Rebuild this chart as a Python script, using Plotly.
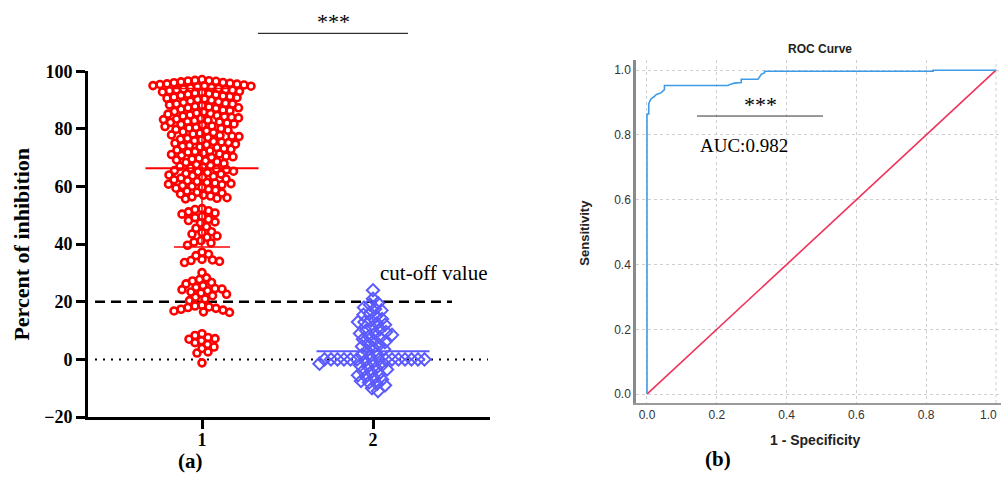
import plotly.graph_objects as go

W, H = 1001, 491

# ---------------- data ----------------
group1 = [97.1, 96.8, 96.6, 96.5, 96.3, 96.1, 96.0, 95.8, 95.6, 95.4, 95.2, 95.0, 94.8, 94.6, 94.4,
          94.2, 94.0, 93.8, 93.6, 93.4, 93.2, 93.0, 92.8, 92.6, 92.4, 92.2, 92.0, 91.8, 91.6, 91.4,
          91.2, 91.0, 90.8, 90.6, 90.4, 90.2, 95.5, 93.5, 96.7, 94.9,
          89.9, 89.6, 89.4, 89.1, 88.9, 88.6, 88.3, 88.1, 87.8, 87.6, 87.3, 87.1, 86.8, 86.5,
          86.3, 86.0, 85.8, 85.5, 85.3, 85.1, 88.6, 87.3,
          84.8, 84.6, 84.4, 84.2, 84.0, 83.8, 83.6, 83.4, 83.2, 83.0, 82.8, 82.6, 82.4, 82.2, 82.0,
          81.7, 81.5, 81.3, 81.0, 80.8, 80.5, 80.3, 80.1,
          79.8, 79.5, 79.3, 79.0, 78.7, 78.5, 78.2, 77.9, 77.7, 77.5, 77.3, 77.0, 76.7, 76.4, 76.1,
          75.9, 75.6, 75.4, 75.2, 75.0,
          74.7, 74.5, 74.2, 74.0, 73.7, 73.5, 73.2, 72.9, 72.6, 72.4, 72.1, 71.9, 71.6, 71.3, 71.1,
          70.8, 70.5, 70.3, 70.1,
          69.8, 69.5, 69.2, 68.9, 68.6, 68.3, 68.0, 67.6, 67.3, 67.0, 66.7, 66.4, 66.1, 65.8, 65.5,
          65.3, 65.1,
          64.8, 64.5, 64.3, 64.0, 63.7, 63.5, 63.2, 62.9, 62.6, 62.3, 62.0, 61.7, 61.4, 61.2, 61.0,
          60.8, 60.6, 60.3, 60.1,
          59.7, 59.4, 59.0, 58.7, 58.4, 58.0, 57.7, 57.4, 57.0, 56.7, 56.4, 56.1, 55.9, 55.7,
          52.3, 52.0, 51.6, 51.2, 50.8, 50.4,
          49.6, 49.2, 48.6, 48.2, 47.7, 47.3, 46.0, 45.5,
          44.3, 44.0, 43.5, 42.8, 42.4, 41.2, 40.7, 40.4,
          39.6, 37.2, 36.5, 36.0,
          34.7, 34.5, 34.3, 34.0, 33.6,
          30.1, 28.3, 27.7, 27.2, 26.7, 26.2, 25.6,
          25.0, 24.6, 24.4, 24.2, 23.8, 23.4, 23.0, 22.6, 22.1, 21.6, 21.0, 20.4,
          18.8, 18.5, 18.2, 18.0, 17.7, 17.4, 17.1, 16.8, 16.5, 16.3,
          8.9, 8.3, 7.6, 7.2, 7.0, 6.5, 5.8, 5.2,
          4.3, 3.8, 2.6, 2.2,
          -1.2]
group2 = [24, 21, 19.5, 19, 18, 17.5, 17, 16, 15.5, 15, 14, 13.5, 13, 13, 12.5, 12, 11, 10.5, 10,
          9.5, 9, 9, 8.5, 8, 7.5, 7, 6.5, 6, 5.5, 5, 4.5, 4, 3.5, 3, 2, 1.5, 1,
          0, 0, 0, 0, 0, 0, 0, 0, 0, 0, 0, 0, 0, 0,
          -0.5, -1, -1.5, -2, -2, -2.5, -3, -3.5, -4, -4.5, -5, -5.5, -6, -6.5, -7, -7.5, -8,
          -8.5, -9, -10, -11]
mean1, sd_low1, sd_high1 = 66.3, 39.0, 94.0
mean2 = 2.8
cutoff = 20
categories = [1, 2]

fpr = [0, 0, 0.005, 0.005, 0.008, 0.012, 0.02, 0.027, 0.04, 0.045, 0.05, 0.05, 0.232, 0.24,
       0.25, 0.27, 0.27, 0.318, 0.325, 0.328, 0.337, 0.337, 0.82, 0.82, 1.0]
tpr = [0, 0.865, 0.865, 0.895, 0.905, 0.912, 0.918, 0.925, 0.93, 0.935, 0.94, 0.953, 0.953, 0.957,
       0.96, 0.962, 0.972, 0.972, 0.982, 0.988, 0.992, 0.997, 0.997, 1.0, 1.0]
diag = [0, 1]
roc_ticks = [0.0, 0.2, 0.4, 0.6, 0.8, 1.0]
auc_text = "AUC:0.982"


# vertical calibration of the rendered page
def ty(y):
    return (y - 8.6) / 0.9625


# ---------------- layout geometry ----------------
AX_L, AX_R, AX_T, AX_B = 88, 490, 70, 417   # panel a plot area (px, target)
XR_A = [1 - (202 - AX_L) / 171.0, 2 + (AX_R - 373) / 171.0]
YR_A = [-20, 100]
PX_PER_X = (AX_R - AX_L) / (XR_A[1] - XR_A[0])
PX_PER_Y = (AX_B - AX_T) / (YR_A[1] - YR_A[0])

BX_L, BX_R, BY_T, BY_B = 636, 1001, 59, 403
XR_B = [-0.0315, 1.0143]
YR_B = [-0.0277, 1.0308]


def swarm(values, D, step=0.5):
    """Simple beeswarm: returns horizontal offsets in px."""
    order = sorted(range(len(values)), key=lambda i: -values[i])
    placed = []
    offs = [0.0] * len(values)
    flip = 1
    for i in order:
        y = values[i] * PX_PER_Y
        k = 0
        while True:
            cands = [0.0] if k == 0 else [flip * k * step, -flip * k * step]
            found = None
            for x in cands:
                if all((x - px) ** 2 + (y - py) ** 2 >= D * D for px, py in placed):
                    found = x
                    break
            if found is not None:
                break
            k += 1
        placed.append((found, y))
        offs[i] = found
        flip = -flip
    return offs


off1 = swarm(group1, 6.8)
off2 = swarm(group2, 6.4)
x1 = [categories[0] + o / PX_PER_X for o in off1]
x2 = [categories[1] + o / PX_PER_X for o in off2]

fig = go.Figure()

fig.add_trace(go.Scatter(x=[XR_A[0] + 7 / PX_PER_X, 1 + (452 - 202) / PX_PER_X], y=[cutoff, cutoff],
                         mode="lines", line=dict(color="black", width=2.5, dash="10px,6px"),
                         xaxis="x", yaxis="y", hoverinfo="skip"))
fig.add_trace(go.Scatter(x=[XR_A[0] + 7 / PX_PER_X, XR_A[1] - 2 / PX_PER_X], y=[0, 0],
                         mode="lines", line=dict(color="black", width=2, dash="2px,6px"),
                         xaxis="x", yaxis="y", hoverinfo="skip"))

fig.add_trace(go.Scatter(x=x1, y=group1, mode="markers", xaxis="x", yaxis="y",
                         marker=dict(symbol="circle-open", size=7, color="#ff0000",
                                     line=dict(width=2.6, color="#ff0000"))))
fig.add_trace(go.Scatter(x=x2, y=group2, mode="markers", xaxis="x", yaxis="y",
                         marker=dict(symbol="diamond-open", size=9.5, color="#5a5aff",
                                     line=dict(width=2, color="#5a5aff"))))

hw = 56.5 / PX_PER_X
cw = 28 / PX_PER_X
c1, c2 = categories
fig.add_trace(go.Scatter(x=[c1 - hw, c1 + hw], y=[mean1, mean1], mode="lines",
                         line=dict(color="#ff0000", width=2), xaxis="x", yaxis="y", hoverinfo="skip"))
fig.add_trace(go.Scatter(x=[c1, c1], y=[sd_low1, sd_high1], mode="lines",
                         line=dict(color="#ff0000", width=1.5), xaxis="x", yaxis="y", hoverinfo="skip"))
for v in (sd_low1, sd_high1):
    fig.add_trace(go.Scatter(x=[c1 - cw, c1 + cw], y=[v, v], mode="lines",
                             line=dict(color="#ff0000", width=1.5), xaxis="x", yaxis="y", hoverinfo="skip"))
fig.add_trace(go.Scatter(x=[c2 - hw, c2 + hw], y=[mean2, mean2], mode="lines",
                         line=dict(color="#5a5aff", width=2), xaxis="x", yaxis="y", hoverinfo="skip"))

# ROC
fig.add_trace(go.Scatter(x=diag, y=diag, mode="lines", line=dict(color="#f0325a", width=1.6),
                         xaxis="x2", yaxis="y2"))
fig.add_trace(go.Scatter(x=fpr, y=tpr, mode="lines", line=dict(color="#3f9be6", width=1.6),
                         xaxis="x2", yaxis="y2"))

serif = "Liberation Serif"
sans = "Liberation Sans"


def pxx(x):
    return x / W


def pxy(y):
    return 1 - ty(y) / H


ann = [
    dict(text="Percent of inhibition", x=pxx(22), y=pxy(244), textangle=-90,
         font=dict(family=serif, size=22, color="black", weight="bold")),
    dict(text="cut-off value", x=pxx(378), y=pxy(272), xanchor="left",
         font=dict(family=serif, size=21, color="black")),
    dict(text="***", x=pxx(333), y=pxy(20),
         font=dict(family=serif, size=22, color="black")),
    dict(text="(a)", x=pxx(190), y=pxy(461),
         font=dict(family=serif, size=21, color="black", weight="bold")),
    dict(text="(b)", x=pxx(718), y=pxy(459),
         font=dict(family=serif, size=21, color="black", weight="bold")),
    dict(text="ROC Curve", x=pxx(820), y=pxy(48),
         font=dict(family=sans, size=12, color="#222", weight="bold")),
    dict(text="Sensitivity", x=pxx(585), y=pxy(232), textangle=-90,
         font=dict(family=sans, size=13, color="#222", weight="bold"), ),
    dict(text="1 - Specificity", x=pxx(815), y=pxy(440),
         font=dict(family=sans, size=14, color="#222", weight="bold")),
    dict(text="***", x=pxx(760), y=pxy(103),
         font=dict(family=serif, size=22, color="black")),
    dict(text=auc_text, x=pxx(744), y=pxy(145),
         font=dict(family=serif, size=19, color="black")),
    dict(text="1.0", x=pxx(999), y=pxy(415), xanchor="right",
         font=dict(family=sans, size=12, color="#333")),
]
for a in ann:
    a.update(xref="paper", yref="paper", showarrow=False)
    a.setdefault("xanchor", "center")
    a["yanchor"] = "middle"

shapes = [
    dict(type="line", xref="paper", yref="paper", x0=pxx(258), x1=pxx(408), y0=pxy(32), y1=pxy(32),
         line=dict(color="black", width=1)),
    dict(type="line", xref="paper", yref="paper", x0=pxx(697), x1=pxx(823), y0=pxy(115), y1=pxy(115),
         line=dict(color="#333", width=1)),
]

fig.update_layout(
    width=W, height=H, margin=dict(l=0, r=0, t=0, b=0),
    paper_bgcolor="white", plot_bgcolor="white", showlegend=False,
    annotations=ann, shapes=shapes,
    xaxis=dict(domain=[AX_L / W, AX_R / W], range=XR_A, tickvals=categories, ticktext=["1", "2"],
               showline=True, linecolor="black", linewidth=3, ticks="outside", ticklen=9,
               tickwidth=3, tickcolor="black", showgrid=False, zeroline=False,
               ticklabelstandoff=-5,
               tickfont=dict(family=serif, size=18, color="black", weight="bold")),
    yaxis=dict(domain=[pxy(AX_B), pxy(AX_T)], range=YR_A, tickvals=[-20, 0, 20, 40, 60, 80, 100],
               showline=True, linecolor="black", linewidth=3, ticks="outside", ticklen=9,
               tickwidth=3, tickcolor="black", showgrid=False, zeroline=False,
               tickfont=dict(family=serif, size=18, color="black", weight="bold")),
    xaxis2=dict(domain=[BX_L / W, BX_R / W], range=XR_B, anchor="y2", tickvals=roc_ticks[:-1],
                tickformat=".1f", showline=True, linecolor="#9a9a9a", linewidth=2,
                ticks="", showgrid=True, gridcolor="#cfcfcf", griddash="3px,3px", gridwidth=1,
                zeroline=False, tickfont=dict(family=sans, size=12, color="#333")),
    yaxis2=dict(domain=[pxy(BY_B), pxy(BY_T)], range=YR_B, anchor="x2", tickvals=roc_ticks,
                tickformat=".1f", showline=True, linecolor="#8a8a8a", linewidth=2.5,
                ticks="", showgrid=True, gridcolor="#cfcfcf", griddash="3px,3px", gridwidth=1,
                zeroline=False, tickfont=dict(family=sans, size=12, color="#333")),
)
fig.add_shape(type="line", xref="x2", yref="y2", x0=1.0, x1=1.0, y0=YR_B[0], y1=YR_B[1],
              line=dict(color="#cfcfcf", width=1, dash="3px,3px"), layer="below")

fig.write_html("out.html")
